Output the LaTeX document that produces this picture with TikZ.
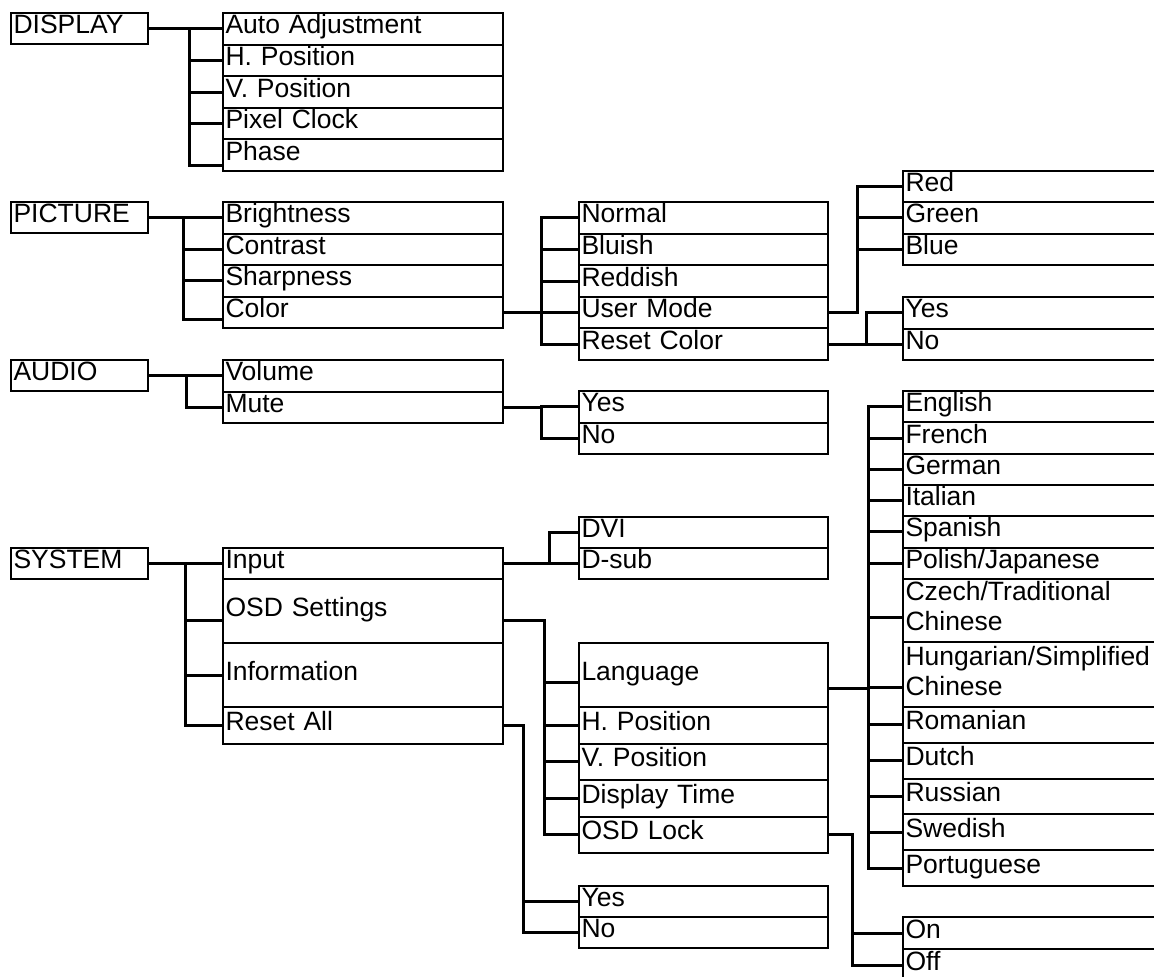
\documentclass[tikz,border=0pt]{standalone}
\usepackage{fontspec}
\setmainfont{Liberation Sans}
\usetikzlibrary{positioning}

\tikzset{
    box/.style={draw, line width=2pt, inner xsep=2.5pt, inner ysep=0pt, outer sep=0pt, align=left, anchor=north west,
        text height=20pt, text depth=10pt, font=\fontsize{26.5pt}{30pt}\selectfont},
    head/.style={box, minimum width=137pt, text width=132pt, minimum height=31pt},
    colA/.style={box, minimum width=280pt, text width=275pt, minimum height=#1}, colA/.default=31.5pt,
    colB/.style={box, minimum width=249pt, text width=244pt, minimum height=#1}, colB/.default=31.5pt,
    colC/.style={box, minimum width=300pt, text width=295pt, minimum height=#1}, colC/.default=31.5pt,
    link/.style={line width=3pt}
}

\begin{document}
\begin{tikzpicture}[x=1pt,y=-1pt]

    \useasboundingbox (0,0) rectangle (1154,977);

    % DISPLAY
    \node[head] (disp) at (11,13) {DISPLAY};
    \node[colA=31.6pt] (d1) at (223,13) {Auto Adjustment};
    \node[colA=31.6pt, below=0pt of d1] (d2) {H. Position};
    \node[colA=31.6pt, below=0pt of d2] (d3) {V. Position};
    \node[colA=31.6pt, below=0pt of d3] (d4) {Pixel Clock};
    \node[colA=31.6pt, below=0pt of d4] (d5) {Phase};

    % PICTURE
    \node[head] (pict) at (11,202) {PICTURE};
    \node[colA] (p1) at (223,202) {Brightness};
    \node[colA, below=0pt of p1] (p2) {Contrast};
    \node[colA, below=0pt of p2] (p3) {Sharpness};
    \node[colA, below=0pt of p3] (p4) {Color};

    \node[colB=31.6pt] (c1) at (579,202) {Normal};
    \node[colB=31.6pt, below=0pt of c1] (c2) {Bluish};
    \node[colB=31.6pt, below=0pt of c2] (c3) {Reddish};
    \node[colB=31.6pt, below=0pt of c3] (c4) {User Mode};
    \node[colB=31.6pt, below=0pt of c4] (c5) {Reset Color};

    \node[colC=31.3pt] (u1) at (903,171) {Red};
    \node[colC=31.3pt, below=0pt of u1] (u2) {Green};
    \node[colC=31.3pt, below=0pt of u2] (u3) {Blue};

    \node[colC] (rcY) at (903,297) {Yes};
    \node[colC, below=0pt of rcY] (rcN) {No};

    % AUDIO
    \node[head] (aud) at (11,360) {AUDIO};
    \node[colA] (a1) at (223,360) {Volume};
    \node[colA, below=0pt of a1] (a2) {Mute};

    \node[colB] (mY) at (579,391) {Yes};
    \node[colB, below=0pt of mY] (mN) {No};

    % SYSTEM
    \node[head] (sys) at (11,548) {SYSTEM};
    \node[colA=31pt] (s1) at (223,548) {Input};
    \node[colA=64pt, below=0pt of s1] (s2) {OSD Settings};
    \node[colA=64pt, below=0pt of s2] (s3) {Information};
    \node[colA=37pt, below=0pt of s3] (s4) {Reset All};

    \node[colB=31pt] (in1) at (579,517) {DVI};
    \node[colB=31pt, below=0pt of in1] (in2) {D-sub};

    \node[colB=64pt] (o1) at (579,643) {Language};
    \node[colB=36.5pt, below=0pt of o1] (o2) {H. Position};
    \node[colB=36.5pt, below=0pt of o2] (o3) {V. Position};
    \node[colB=36.5pt, below=0pt of o3] (o4) {Display Time};
    \node[colB=36.5pt, below=0pt of o4] (o5) {OSD Lock};

    \node[colB=31pt] (raY) at (579,886) {Yes};
    \node[colB=31pt, below=0pt of raY] (raN) {No};

    \node[colC=32pt] (lkOn) at (903,917) {On};
    \node[colC=32pt, below=0pt of lkOn] (lkOff) {Off};

    \node[colC=31.33pt] (l1) at (903,391) {English};
    \node[colC=31.33pt, below=0pt of l1] (l2) {French};
    \node[colC=31.33pt, below=0pt of l2] (l3) {German};
    \node[colC=31.33pt, below=0pt of l3] (l4) {Italian};
    \node[colC=31.33pt, below=0pt of l4] (l5) {Spanish};
    \node[colC=31.33pt, below=0pt of l5] (l6) {Polish/Japanese};
    \node[colC=63pt, text height=22pt, text depth=41pt, below=0pt of l6] (l7) {Czech/Traditional\\Chinese};
    \node[colC=65pt, text height=24pt, text depth=41pt, below=0pt of l7] (l8) {Hungarian/Simplified\\Chinese};
    \node[colC=35.8pt, below=0pt of l8] (l9) {Romanian};
    \node[colC=35.8pt, below=0pt of l9] (l10) {Dutch};
    \node[colC=35.8pt, below=0pt of l10] (l11) {Russian};
    \node[colC=35.8pt, below=0pt of l11] (l12) {Swedish};
    \node[colC=35.8pt, below=0pt of l12] (l13) {Portuguese};

    % connectors
    \draw[link] (disp.east) -- ++(41,0) |- (d1.west)
        (disp.east) -- ++(41,0) |- (d2.west)
        (disp.east) -- ++(41,0) |- (d3.west)
        (disp.east) -- ++(41,0) |- (d4.west)
        (disp.east) -- ++(41,0) |- ([yshift=-10pt]d5.west);

    \draw[link] (pict.east) -- ++(35,0) |- (p1.west)
        (pict.east) -- ++(35,0) |- (p2.west)
        (pict.east) -- ++(35,0) |- (p3.west)
        (pict.east) -- ++(35,0) |- ([yshift=-7pt]p4.west);
    \draw[link] (p4.east) -- ++(38,0) |- (c1.west)
        (p4.east) -- ++(38,0) |- (c2.west)
        (p4.east) -- ++(38,0) |- (c3.west)
        (p4.east) -- ++(38,0) |- (c4.west)
        (p4.east) -- ++(38,0) |- (c5.west);
    \draw[link] (c4.east) -- ++(29,0) |- (u1.west)
        (c4.east) -- ++(29,0) |- (u2.west)
        (c4.east) -- ++(29,0) |- (u3.west);
    \draw[link] (c5.east) -- ++(38,0) |- (rcY.west)
        (c5.east) -- ++(38,0) |- (rcN.west);

    \draw[link] (aud.east) -- ++(38,0) |- (a1.west)
        (aud.east) -- ++(38,0) |- (a2.west);
    \draw[link] (a2.east) -- ++(38,0) |- (mY.west)
        (a2.east) -- ++(38,0) |- (mN.west);

    \draw[link] (sys.east) -- ++(37,0) |- (s1.west)
        (sys.east) -- ++(37,0) |- ([yshift=-9pt]s2.west)
        (sys.east) -- ++(37,0) |- (s3.west)
        (sys.east) -- ++(37,0) |- (s4.west);
    \draw[link] (s1.east) -- ++(46,0) |- (in1.west)
        (s1.east) -- ++(46,0) |- (in2.west);
    \draw[link] ([yshift=-9pt]s2.east) -- ++(41,0) |- ([yshift=-7pt]o1.west)
        ([yshift=-9pt]s2.east) -- ++(41,0) |- (o2.west)
        ([yshift=-9pt]s2.east) -- ++(41,0) |- (o3.west)
        ([yshift=-9pt]s2.east) -- ++(41,0) |- (o4.west)
        ([yshift=-9pt]s2.east) -- ++(41,0) |- (o5.west);
    \draw[link] (s4.east) -- ++(20,0) |- (raY.west)
        (s4.east) -- ++(20,0) |- (raN.west);

    \draw[link] ([yshift=-13pt]o1.east) -- ++(40,0) |- (l1.west)
        ([yshift=-13pt]o1.east) -- ++(40,0) |- (l2.west)
        ([yshift=-13pt]o1.east) -- ++(40,0) |- (l3.west)
        ([yshift=-13pt]o1.east) -- ++(40,0) |- (l4.west)
        ([yshift=-13pt]o1.east) -- ++(40,0) |- (l5.west)
        ([yshift=-13pt]o1.east) -- ++(40,0) |- (l6.west)
        ([yshift=-13pt]o1.east) -- ++(40,0) |- ([yshift=-7pt]l7.west)
        ([yshift=-13pt]o1.east) -- ++(40,0) |- ([yshift=-13pt]l8.west)
        ([yshift=-13pt]o1.east) -- ++(40,0) |- (l9.west)
        ([yshift=-13pt]o1.east) -- ++(40,0) |- (l10.west)
        ([yshift=-13pt]o1.east) -- ++(40,0) |- (l11.west)
        ([yshift=-13pt]o1.east) -- ++(40,0) |- (l12.west)
        ([yshift=-13pt]o1.east) -- ++(40,0) |- (l13.west);
    \draw[link] (o5.east) -- ++(24,0) |- (lkOn.west)
        (o5.east) -- ++(24,0) |- (lkOff.west);
\end{tikzpicture}
\end{document}
